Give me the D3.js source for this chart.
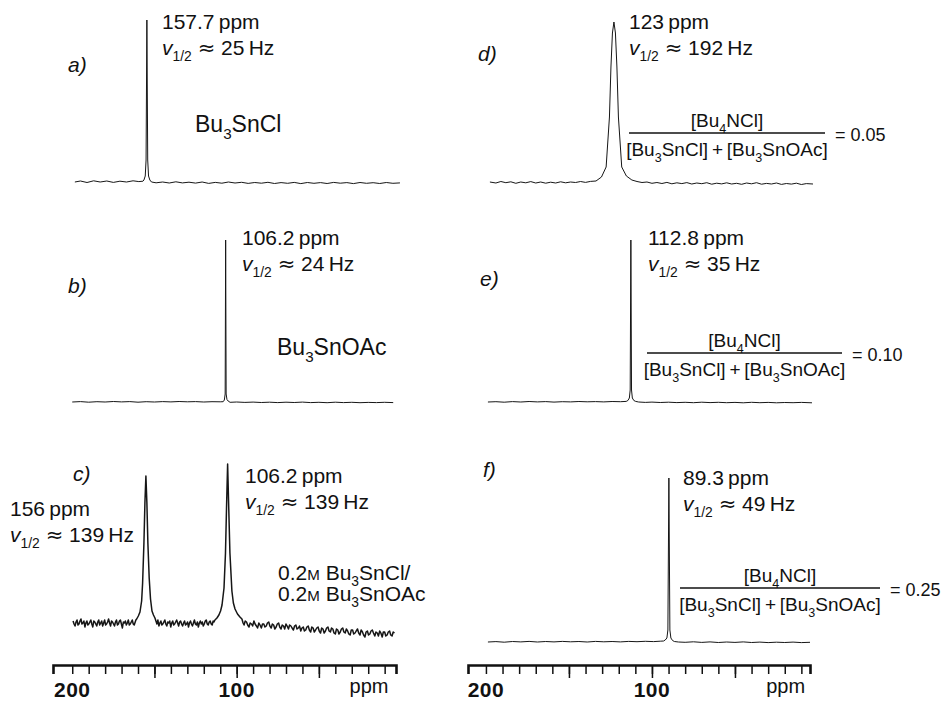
<!DOCTYPE html>
<html>
<head>
<meta charset="utf-8">
<style>
    body { margin: 0; background: #fff; }
    svg { display: block; font-family: 'Liberation Sans', Arial, sans-serif; fill: #111; }
</style>
</head>
<body>
<svg width="943" height="703"></svg>

<script src="https://d3js.org/d3.v7.min.js"></script>
<script>

    // spectra as [ppm, intensity above baseline]
    let specA = [
        [198.4, 0], [195, 1], [191, -0.5], [187, 1.2], [183, 0], [179, 1], [175, -0.4], [171, 0.8], [167, 0], [163, 1.2], [159.5, 0.4],
        [157, 0.8], [156.4, 2], [155.6, 6], [155.1, 22], [154.6, 162], [154.1, 22], [153.6, 6], [152.8, 2], [151.8, 0],
        [149, -0.8], [145, 0], [141, -1], [137, 0.2], [133, -0.9], [129, -0.2], [125, -1.1], [121, 0], [117, -1.4], [113, -0.4],
        [109, -1.2], [105, 0], [101, -1], [97, -0.3], [93, -1.4], [89, -0.5], [85, -1.2], [81, -0.3], [77, -1.5], [73, -0.6],
        [69, -1.3], [65, -0.4], [61, -1.6], [57, -0.5], [53, -1.3], [49, -0.6], [45, -1.5], [41, -0.4], [37, -1.2], [33, -0.6],
        [29, -1.6], [25, -0.5], [21, -1.3], [17, -0.7], [13, -1.5], [9, -0.5], [5, -1.3], [0.7, -0.9]
    ]

    let specB = [
        [200, 0], [195, 0.4], [190, -0.2], [185, 0.3], [180, 0], [175, 0.5], [170, 0.1], [165, 0.4], [160, -0.2], [155, 0.3],
        [150, 0], [145, 0.4], [140, 0.1], [135, 0.5], [130, 0.2], [125, 0.4], [120, 0], [115, 0.3], [110, 0.2],
        [108.2, 0.3], [107.5, 2], [107.0, 8], [106.7, 162], [106.4, 8], [105.9, 2.5], [105.2, 1], [104, -0.3],
        [100, 0], [95, -0.4], [90, -0.1], [85, -0.5], [80, -0.2], [75, -0.6], [70, -0.2], [65, -0.5], [60, -0.1],
        [55, -0.6], [50, -0.3], [45, -0.7], [40, -0.2], [35, -0.6], [30, -0.3], [25, -0.7], [20, -0.4], [15, -0.6],
        [10, -0.3], [4.8, -0.6]
    ]

    let specC = [
        [199.5, 2], [198.9, -1], [198.3, -3], [197.7, 1], [197.1, 3], [196.5, -2], [195.9, -1], [195.3, 2], [194.7, 4],
        [194.1, -1], [193.5, 0], [192.9, 2], [192.3, -4], [191.7, 0], [191.1, 2], [190.5, -2], [189.9, -1], [189.3, 1],
        [188.7, 3], [188.1, -1], [187.5, -4], [186.9, 2], [186.3, 1], [185.7, -1], [185.1, -3], [184.5, 1], [183.9, 3],
        [183.3, -2], [182.7, 0], [182.1, 2], [181.5, -3], [180.9, 0], [180.3, 3], [179.7, -2], [179.1, -1], [178.5, 1],
        [177.9, 4], [177.3, 0], [176.7, -3], [176.1, 2], [175.5, 1], [174.9, -1], [174.3, -3], [173.7, 1], [173.1, 3],
        [172.5, -2], [171.9, -1], [171.3, 2], [170.7, 3], [170.1, -1], [169.5, -5], [168.9, 1], [168.3, 0], [167.7, 2],
        [167.1, -2], [166.5, 0], [165.9, 3], [165.3, -2], [164.7, -1], [164.1, 1], [163.5, 3], [162.9, -1], [162.3, -2],
        [161.7, 1], [161.3, 3],
        [160.8, 4], [159.8, 7], [158.8, 11], [157.8, 22], [157.2, 40], [156.4, 80], [155.8, 120], [155.2, 147],
        [154.6, 120], [154.0, 80], [153.2, 45], [152.4, 24], [151.5, 12], [150.6, 8], [149.7, 5],
        [149.1, 2], [148.5, -1], [147.9, 3], [147.3, -3], [146.7, 0], [146.1, 2], [145.5, -2], [144.9, -1], [144.3, 1],
        [143.7, 3], [143.1, -1], [142.5, -3], [141.9, 1], [141.3, 0], [140.7, 2], [140.1, -4], [139.5, 0], [138.9, 2],
        [138.3, -2], [137.7, -1], [137.1, 1], [136.5, 3], [135.9, 0], [135.3, -3], [134.7, 1], [134.1, 2], [133.5, -1],
        [132.9, -3], [132.3, 0], [131.7, 2], [131.1, -2], [130.5, -1], [129.9, 1], [129.3, -4], [128.7, 0], [128.1, 2],
        [127.5, -1], [126.9, -3], [126.3, 0], [125.7, 3], [125.1, -1], [124.5, -2], [123.9, 1], [123.3, -4], [122.7, 0],
        [122.1, 2], [121.5, -1], [120.9, 1], [120.3, -3], [119.7, -1], [119.1, 2], [118.5, 3], [117.9, -1], [117.3, -2],
        [116.7, 1], [116.1, 2], [115.5, -1], [114.9, -2], [114.3, 2], [113.8, 1],
        [113.2, 3], [112, 5], [110.8, 8], [109.8, 12], [108.9, 18], [107.7, 35], [106.8, 70], [106.1, 120], [105.5, 159],
        [104.9, 120], [104.1, 70], [102.9, 32], [102, 20], [101, 14], [99.5, 9], [98, 6], [96.8, 4],
        [96.1, 0], [95.5, -2], [94.8, 2], [94, 1], [93.3, -2], [92.5, -4], [91.8, 0], [91, -1], [90.3, -3], [89.5, 2],
        [88.8, -1], [88, -3], [87.3, -5], [86.5, 0], [85.8, -2], [85, -5], [84.3, -1], [83.5, -1], [82.8, -4], [82, -3],
        [81.3, 0], [80.5, 1], [79.8, -3], [79, -5], [78.3, -1], [77.5, -2], [76.8, -6], [76, -4], [75.3, -1], [74.5, 0],
        [73.8, -4], [73, -6], [72.3, -2], [71.5, -3], [70.8, -6], [70, -1], [69.3, -3], [68.5, -6], [67.8, -2], [67, -3],
        [66.3, -5], [65.5, -7], [64.8, -3], [64, -2], [63.3, -6], [62.5, -5], [61.8, -3], [61, -8], [60.3, -5], [59.5, -4],
        [58.8, -8], [58, -7], [57.3, -4], [56.5, -3], [55.8, -7], [55, -9], [54.3, -4], [53.5, -5], [52.8, -9], [52, -7],
        [51.3, -5], [50.5, -4], [49.8, -8], [49, -10], [48.3, -5], [47.5, -6], [46.8, -10], [46, -8], [45.3, -5], [44.5, -4],
        [43.8, -8], [43, -9], [42.3, -5], [41.5, -6], [40.8, -10], [40, -11], [39.3, -6], [38.5, -7], [37.8, -11], [37, -9],
        [36.3, -6], [35.5, -5], [34.8, -9], [34, -10], [33.3, -6], [32.5, -8], [31.8, -11], [31, -12], [30.3, -7], [29.5, -7],
        [28.8, -11], [28, -10], [27.3, -8], [26.5, -6], [25.8, -10], [25, -12], [24.3, -7], [23.5, -9], [22.8, -12], [22, -14],
        [21.3, -9], [20.5, -8], [19.8, -12], [19, -11], [18.3, -8], [17.5, -7], [16.8, -10], [16, -13], [15.3, -9], [14.5, -10],
        [13.8, -13], [13, -8], [12.3, -10], [11.5, -14], [10.8, -9], [10, -9], [9.3, -13], [8.5, -12], [7.8, -9], [7, -8],
        [6.3, -12], [5.5, -13], [4.8, -9], [4, -10]
    ]

    let specD = [
        [197.6, 1], [194, 0], [191, 1.5], [188, 0.3], [185, 1.2], [182, -0.3], [179, 1], [176, 0.2], [173, 1.4], [170, 0],
        [167, 1], [164, -0.2], [161, 0.8], [158, 0], [155, 1.2], [152, 0.2], [149, 1], [146, 0.5], [143, 1.5], [140, 0.6],
        [137, 1.6], [133.7, 2], [130.4, 6], [127.6, 16], [125.6, 66], [124.7, 116], [123.8, 150], [122.9, 161],
        [122.0, 150], [121.1, 116], [120.2, 66], [118.2, 16], [115.4, 7], [112.1, 3], [109, 1.5], [106, 0.5],
        [103, 1], [100, -0.3], [97, 0.5], [94, -0.5], [91, 0.6], [88, -0.8], [85, 0.2], [82, -0.6], [79, 0.4], [76, -1],
        [73, 0], [70, -0.7], [67, 0.3], [64, -1.2], [61, -0.2], [58, -0.9], [55, 0.2], [52, -1], [49, -0.3], [46, -1.3],
        [43, 0], [40, -0.8], [37, 0.3], [34, -1.2], [31, -0.4], [28, -1], [25, 0], [22, -1.4], [19, -0.5], [16, -1.1],
        [13, -0.2], [10, -1.5], [7, -0.6], [3, -1]
    ]

    let specE = [
        [198.8, 0], [194, 0.3], [189, -0.2], [184, 0.4], [179, 0], [174, 0.5], [169, 0.1], [164, 0.4], [159, -0.1],
        [154, 0.3], [149, 0.1], [144, 0.5], [139, 0.2], [134, 0.4], [129, 0.1], [124, 0.5], [119, 0.3],
        [115.5, 0.6], [114.5, 1.5], [113.6, 4], [113.1, 12], [112.7, 162], [112.3, 12], [111.8, 4], [110.9, 1.5],
        [109.8, 0.6], [108, 0], [104, -0.4], [100, -0.1], [95, -0.5], [90, -0.2], [85, -0.6], [80, -0.3], [75, -0.7],
        [70, -0.2], [65, -0.6], [60, -0.3], [55, -0.7], [50, -0.4], [45, -0.8], [40, -0.3], [35, -0.7], [30, -0.4],
        [25, -0.8], [20, -0.5], [15, -0.7], [10, -0.4], [3.6, -0.8]
    ]

    let specF = [
        [198.8, 0], [194, 0.4], [189, -0.2], [184, 0.5], [179, 0.1], [174, 0.6], [169, 0], [164, 0.5], [159, 0.1],
        [154, 0.6], [149, 0.2], [144, 0.5], [139, 0], [134, 0.6], [129, 0.2], [124, 0.5], [119, 0.1], [114, 0.6],
        [109, 0.3], [104, 0.7], [99, 0.4], [95, 0.8], [93, 1], [92, 2], [91, 4], [90.4, 12], [89.8, 164], [89.2, 12],
        [88.6, 4], [87.6, 1.5], [86.5, 0.5], [84, 0], [80, -0.3], [75, 0.2], [70, -0.4], [65, 0.1], [60, -0.5], [55, 0],
        [50, -0.4], [45, 0.1], [40, -0.5], [35, -0.1], [30, -0.6], [25, -0.2], [20, -0.5], [15, -0.1], [10, -0.6], [4.8, -0.3]
    ]

    // text values
    let panelIds = ["a)", "b)", "c)", "d)", "e)", "f)"]
    let shifts = ["157.7", "106.2", "106.2", "123", "112.8", "89.3"]
    let halfWidths = ["25", "24", "139", "192", "35", "49"]
    let shiftC2 = "156"
    let halfWidthC2 = "139"
    let compounds = ["Bu_3SnCl", "Bu_3SnOAc"]
    let ratios = ["0.05", "0.10", "0.25"]
    let minorTicks = d3.range(200, 9, -10)
    let majorTicks = [150, 100, 50]
    let tickLabels = [200, 100]

    let svg = d3.select("svg")

    let xL = d3.scaleLinear().domain([211.7, 3.1]).range([53, 396])
    let xR = d3.scaleLinear().domain([210.8, 4.8]).range([468, 810])

    function yAt(base) {
        return d3.scaleLinear().domain([0, 100]).range([base, base - 100])
    }

    function drawSpec(data, x, base, width) {
        let y = yAt(base)
        let line = d3.line().x(d => x(d[0])).y(d => y(d[1]))
        svg.append("path")
            .datum(data)
            .attr("d", line)
            .style("fill", "none")
            .style("stroke", "#161616")
            .style("stroke-width", width)
            .style("stroke-linejoin", "round")
    }

    drawSpec(specA, xL, 182, 1)
    drawSpec(specB, xL, 402, 1)
    drawSpec(specC, xL, 623, 1.5)
    drawSpec(specD, xR, 183, 1)
    drawSpec(specE, xR, 402, 1)
    drawSpec(specF, xR, 642, 1)

    // axes
    function drawAxis(x) {
        let g = svg.append("g").attr("transform", "translate(0,665)")
        g.call(d3.axisBottom(x).tickValues(minorTicks).tickSize(9).tickFormat(""))
        g.append("g").call(d3.axisBottom(x).tickValues(majorTicks).tickSize(13).tickFormat(""))
            .select(".domain").remove()
        g.selectAll(".domain").attr("stroke", "#111").attr("stroke-width", 2.6)
        g.selectAll(".tick line").attr("stroke", "#111").attr("stroke-width", 1.5)

        let lab = svg.append("g").attr("transform", "translate(0,697)")
        lab.selectAll("text")
            .data(tickLabels)
            .join("text")
            .attr("x", d => x(d))
            .attr("text-anchor", "middle")
            .style("font-size", "21px")
            .style("font-weight", "bold")
            .style("letter-spacing", "0.5px")
            .text(d => d)
        svg.append("text")
            .attr("x", x(19.5))
            .attr("y", 693)
            .attr("text-anchor", "middle")
            .style("font-size", "20px")
            .text("ppm")
    }
    drawAxis(xL)
    drawAxis(xR)

    // text with subscripts: "_3" makes a subscript 3
    function chem(s) {
        return s.split(/(_.)/).filter(p => p !== "").map(p => p[0] === "_" ? { t: p[1], sub: true } : { t: p })
    }

    function rich(x, y, parts, size, anchor) {
        let t = svg.append("text")
            .attr("x", x).attr("y", y)
            .attr("text-anchor", anchor || "start")
            .style("font-size", size + "px")
        let cur = 0
        parts.forEach(p => {
            let off = p.sub ? size * 0.3 : 0
            let s = t.append("tspan").attr("dy", off - cur).text(p.t)
            cur = off
            if (p.sub) s.style("font-size", (size * 0.66) + "px")
            if (p.sc) s.style("font-size", (size * 0.72) + "px")
            if (p.it) s.style("font-style", "italic")
            if (p.sym) s.style("font-family", "'DejaVu Sans', sans-serif")
        })
        return t
    }

    function shiftLabel(x, y, ppm, hz) {
        rich(x, y, [{ t: ppm + "\u2009ppm" }], 21)
        rich(x, y + 26, [
            { t: "v", it: true }, { t: "1/2", sub: true },
            { t: " " }, { t: "\u2248", sym: true }, { t: " " + hz + "\u2009Hz" }
        ], 21)
    }

    function panelId(x, y, s) {
        rich(x, y, [{ t: s, it: true }], 21)
    }

    function fraction(x0, x1, yLine, value) {
        let cx = (x0 + x1) / 2
        rich(cx, yLine - 6, chem("[Bu_4NCl]"), 19, "middle")
        svg.append("line")
            .attr("x1", x0).attr("x2", x1)
            .attr("y1", yLine).attr("y2", yLine)
            .style("stroke", "#111").style("stroke-width", 1.4)
        rich(cx, yLine + 23, chem("[Bu_3SnCl]\u2009+\u2009[Bu_3SnOAc]"), 19, "middle")
        rich(x1 + 10, yLine + 8, [{ t: "= " + value }], 18)
    }

    // a)
    panelId(68, 72, panelIds[0])
    shiftLabel(162, 29, shifts[0], halfWidths[0])
    rich(195, 132, chem(compounds[0]), 23)

    // b)
    panelId(68, 293, panelIds[1])
    shiftLabel(242, 245, shifts[1], halfWidths[1])
    rich(277, 355, chem(compounds[1]), 23)

    // c)
    panelId(73, 481, panelIds[2])
    shiftLabel(10, 516, shiftC2, halfWidthC2)
    shiftLabel(245, 483, shifts[2], halfWidths[2])
    rich(278, 580, [{ t: "0.2" }, { t: "M", sc: true }, { t: " " }].concat(chem(compounds[0] + "/")), 21)
    rich(278, 601, [{ t: "0.2" }, { t: "M", sc: true }, { t: " " }].concat(chem(compounds[1])), 21)

    // d)
    panelId(478, 61, panelIds[3])
    shiftLabel(629, 29, shifts[3], halfWidths[3])
    fraction(629, 825, 133, ratios[0])

    // e)
    panelId(480, 286, panelIds[4])
    shiftLabel(648, 245, shifts[4], halfWidths[4])
    fraction(647, 842, 353, ratios[1])

    // f)
    panelId(483, 477, panelIds[5])
    shiftLabel(683, 485, shifts[5], halfWidths[5])
    fraction(680, 880, 588, ratios[2])

</script>
</body>
</html>
